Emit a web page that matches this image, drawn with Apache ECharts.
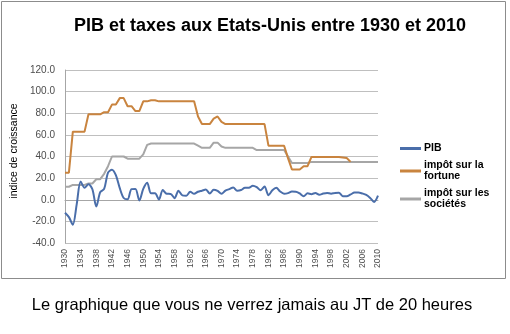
<!DOCTYPE html>
<html><head><meta charset="utf-8">
<script src="https://cdn.jsdelivr.net/npm/echarts@6/dist/echarts.min.js"></script>
<style>html,body{margin:0;padding:0;background:#fff}#c{width:510px;height:334px}</style>
</head><body><div id="c"></div>
<script>
const years = [];
for (let y = 1930; y <= 2010; y++) years.push(String(y));

const pib = [-12.0,-16.1,-23.1,-4.0,16.9,11.1,14.3,9.7,-6.3,7.0,
  10.0,25.0,27.7,22.7,10.7,1.6,0.4,9.8,10.0,-0.7,
  10.0,15.7,5.9,6.0,0.3,9.0,5.5,5.4,1.5,8.4,
  4.0,3.7,7.4,5.5,7.4,8.4,9.5,5.7,9.3,8.2,
  5.5,8.5,9.8,11.4,8.4,9.0,11.2,11.1,13.0,11.7,
  8.8,12.2,4.2,8.7,11.1,7.6,5.6,6.1,7.6,7.5,
  5.8,3.3,5.9,5.2,6.3,4.6,5.7,6.3,5.6,6.3,
  6.5,3.3,3.3,4.9,6.6,6.7,5.8,4.5,1.7,-2.0,3.8];

const fortune = [25,25,63,63,63,63,79,79,79,79,
  81,81,88,88,94,94,86.5,86.5,82,82,
  91,91,92,92,91,91,91,91,91,91,
  91,91,91,91,77,70,70,70,75,77,
  72,70,70,70,70,70,70,70,70,70,
  70,70,50,50,50,50,50,38.5,28,28,
  28,31,31,39.6,39.6,39.6,39.6,39.6,39.6,39.6,
  39.6,39.1,38.6,35];

const societes = [12,12,13.75,13.75,13.75,13.75,15,15,19,19,
  24,31,40,40,40,40,38,38,38,38,
  42,50.75,52,52,52,52,52,52,52,52,
  52,52,52,52,50,48,48,48,52.8,52.8,
  49.2,48,48,48,48,48,48,48,48,46,
  46,46,46,46,46,46,46,40,34,34,
  34,34,34,35,35,35,35,35,35,35,
  35,35,35,35,35,35,35,35,35,35,35];

const names = ['PIB', 'impôt sur la fortune', 'impôt sur les sociétés'];
const legendLabels = {'PIB':'PIB','impôt sur la fortune':'impôt sur la\nfortune','impôt sur les sociétés':'impôt sur les\nsociétés'};
const colors = ['#4a6eaa', '#c9843f', '#a6a6a6'];

const chart = echarts.init(document.getElementById('c'));
const font = '"Liberation Sans", Arial, sans-serif';
chart.setOption({
  animation: false,
  textStyle: {fontFamily: font},
  title: {text: 'PIB et taxes aux Etats-Unis entre 1930 et 2010', left: 265, textAlign: 'center', top: 12,
    textStyle: {fontSize: 18, fontWeight: 'bold', color: '#000', fontFamily: font}},
  graphic: [
    {type: 'rect', shape: {x: 1.5, y: 1.5, width: 504, height: 277}, style: {fill: 'none', stroke: '#8c8c8c', lineWidth: 1}, z: -1},
    {type: 'text', x: 252, y: 305, style: {text: 'Le graphique que vous ne verrez jamais au JT de 20 heures', fontSize: 16.5, fill: '#000', fontFamily: font, align: 'center', verticalAlign: 'middle'}},
    {type: 'text', x: 14, y: 151, rotation: Math.PI / 2, style: {text: 'indice de croissance', fontSize: 10.5, fill: '#000', fontFamily: font, align: 'center', verticalAlign: 'middle'}}
  ],
  legend: {orient: 'vertical', left: 395, top: 138, itemGap: 6, itemWidth: 21, itemHeight: 3, icon: 'rect',
    data: names, formatter: n => legendLabels[n],
    textStyle: {fontSize: 10.5, fontWeight: 'bold', color: '#000', lineHeight: 11, padding: [0,0,0,-2]}},
  grid: {left: 65, right: 132, top: 70, bottom: 91},
  xAxis: {type: 'category', data: years, boundaryGap: false,
    axisLine: {lineStyle: {color: '#a6a6a6'}}, axisTick: {show: false},
    axisLabel: {interval: 3, rotate: 90, fontSize: 8.5, color: '#4d4d4d', margin: 6}},
  yAxis: {type: 'value', min: -40, max: 120, interval: 20,
    axisLine: {show: true, lineStyle: {color: '#a6a6a6'}}, axisTick: {show: false},
    axisLabel: {formatter: v => v.toFixed(1), fontSize: 10, color: '#4d4d4d', margin: 10},
    splitLine: {lineStyle: {color: '#bfbfbf', width: 1}}},
  series: [
    {name: names[0], type: 'line', data: pib, showSymbol: false, smooth: 0.3, lineStyle: {width: 2, color: colors[0]}, itemStyle: {color: colors[0]}, z: 3},
    {name: names[1], type: 'line', data: fortune, showSymbol: false, lineStyle: {width: 2, color: colors[1]}, itemStyle: {color: colors[1]}, z: 2},
    {name: names[2], type: 'line', data: societes, showSymbol: false, lineStyle: {width: 2, color: colors[2]}, itemStyle: {color: colors[2]}, z: 1}
  ]
});
</script></body></html>
